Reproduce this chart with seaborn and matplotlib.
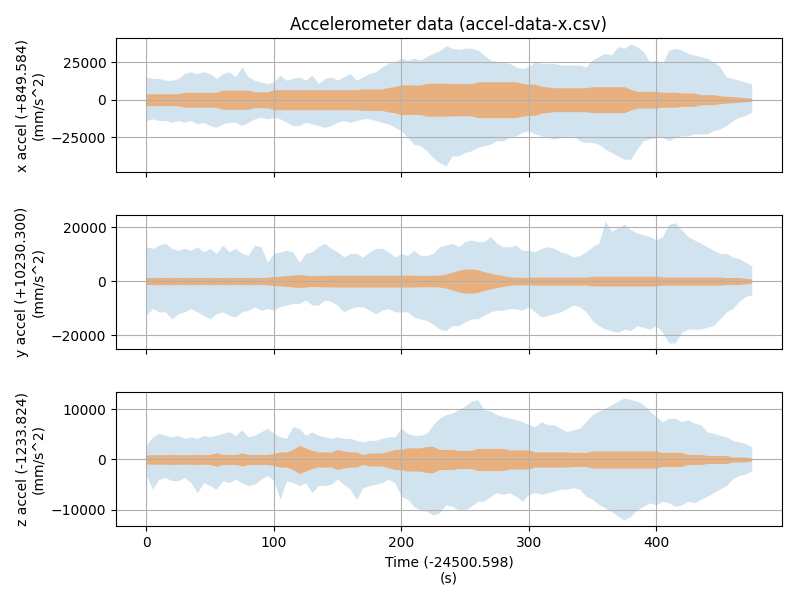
import numpy as np
import pandas as pd
import seaborn as sns
import matplotlib
matplotlib.use("Agg")
import matplotlib.pyplot as plt

# time grid (s), one sample per 5 s window
time_s = np.arange(0, 476, 5)

# x axis envelope (mm/s^2)
x_max = [15300, 14200, 14200, 13000, 13000, 14200, 17500, 18700, 17500, 18700,
         17500, 14200, 17500, 18700, 15300, 22000, 15300, 13000, 11900, 10800,
         11900, 16400, 13000, 14200, 15300, 13000, 16400, 10800, 14200, 15300,
         13000, 15300, 17500, 13000, 15300, 17500, 18700, 22000, 24300, 25400,
         27700, 26500, 27700, 26500, 28800, 31000, 32800, 36000, 34400, 33700,
         34400, 34400, 33300, 29900, 26500, 25400, 25000, 24300, 22000, 20900,
         22000, 25400, 24300, 24300, 24300, 23200, 23200, 23200, 23200, 22000,
         26500, 28800, 31000, 29900, 35500, 34400, 37200, 35500, 32200, 25400,
         26500, 24300, 33300, 34400, 33300, 31000, 29900, 28800, 27700, 25400,
         22000, 15300, 14200, 13000, 11900, 10400]
x_min = [-13950, -12800, -13950, -13950, -15100, -13950, -15100, -13950, -16200, -15100,
         -17300, -18500, -16200, -15100, -15100, -17300, -15100, -12800, -11700, -12800,
         -11700, -12800, -15100, -17300, -17300, -15100, -16200, -17300, -18500, -17300,
         -15100, -13950, -15100, -13950, -12800, -12800, -13950, -15100, -16200, -18500,
         -20700, -25200, -29700, -30800, -34200, -38700, -42100, -44300, -37600, -37600,
         -35300, -34200, -31900, -30800, -29700, -27400, -27400, -25200, -24100, -21800,
         -20700, -22900, -24100, -25200, -26300, -25200, -25200, -24100, -27400, -28600,
         -28600, -29700, -33100, -35300, -37600, -39800, -39800, -33100, -27400, -26300,
         -25200, -25200, -27400, -25200, -24100, -24100, -22900, -22900, -22900, -20700,
         -19600, -17300, -13950, -11700, -10600, -8300]
x_std = [4000, 4000, 4000, 4000, 4000, 4000, 5000, 5000, 5000, 5000,
         5000, 5000, 6400, 6400, 6400, 6400, 6400, 5300, 5300, 5300,
         6700, 6700, 6700, 6700, 6700, 6700, 6700, 6700, 6700, 6700,
         6700, 6700, 6700, 6700, 7200, 7200, 7200, 7200, 8200, 8800,
         9900, 9900, 9900, 9900, 11000, 11000, 11000, 11000, 10800, 10800,
         10800, 10800, 12000, 12000, 12000, 12000, 12000, 12000, 12000, 11000,
         10400, 10400, 9000, 8500, 8000, 8000, 8000, 8000, 8000, 8000,
         8700, 8700, 8700, 8700, 8700, 8700, 7000, 5600, 5600, 5600,
         5600, 5000, 5000, 5000, 4500, 4500, 4500, 3400, 3400, 3400,
         2600, 2300, 2100, 1700, 1400, 1100]

# y axis envelope (mm/s^2)
y_max = [12700, 12100, 13300, 14000, 12100, 11400, 12100, 11400, 12700, 10800,
         12100, 10200, 13300, 10800, 12100, 10200, 9500, 13300, 12700, 7000,
         10200, 10800, 11400, 10800, 7000, 10200, 10800, 12700, 14000, 12100,
         10800, 8900, 10200, 10200, 8900, 10800, 12100, 12100, 10800, 8900,
         10200, 9500, 11400, 9500, 9500, 10200, 12700, 13300, 14000, 12700,
         14600, 15200, 14600, 14600, 16500, 14000, 12700, 12700, 13300, 11400,
         11400, 10800, 12100, 12700, 12100, 10800, 10200, 8900, 9500, 10800,
         12700, 14000, 22200, 18400, 19700, 21000, 19000, 17800, 17100, 16500,
         15200, 16500, 21000, 21600, 19000, 16500, 15200, 14000, 12700, 11400,
         10200, 10200, 8900, 8300, 7000, 5700]
y_min = [-12700, -10200, -11400, -11400, -14000, -12100, -11400, -10200, -11400, -12700,
         -14000, -12100, -11400, -12700, -13300, -11400, -10800, -9500, -10800, -10200,
         -10800, -9500, -8900, -8300, -8300, -7000, -8900, -8900, -7000, -7600,
         -8900, -11400, -10200, -9500, -9500, -10800, -12100, -10800, -10200, -11400,
         -11400, -11400, -13300, -14000, -14600, -15900, -17800, -18400, -16500, -16500,
         -15200, -14000, -14000, -12700, -11400, -10800, -10800, -10200, -10200, -10800,
         -9500, -11400, -13300, -12700, -12100, -11400, -10200, -8900, -9500, -11400,
         -14600, -16500, -17800, -18400, -19000, -17800, -18400, -16500, -17100, -17800,
         -16500, -19000, -22900, -22900, -19000, -17800, -17800, -17800, -17100, -16500,
         -14000, -11400, -10200, -7600, -5700, -5100]
y_std = [1300, 1300, 1400, 1300, 1400, 1300, 1300, 1400, 1300, 1300,
         1400, 1300, 1300, 1400, 1300, 1300, 1400, 1300, 1300, 1400,
         1700, 1800, 2000, 2200, 2400, 2200, 2000, 2100, 2100, 2200,
         2200, 2200, 2200, 2200, 2200, 2200, 2200, 2200, 2200, 2200,
         2200, 2200, 2200, 2100, 2100, 2100, 2200, 2600, 3300, 4000,
         4400, 4500, 4200, 3500, 2900, 2400, 2000, 1600, 1400, 1400,
         1400, 1500, 1500, 1500, 1500, 1500, 1500, 1500, 1500, 1500,
         1800, 1800, 1800, 1800, 1800, 1800, 1800, 1800, 1800, 1800,
         1800, 1500, 1500, 1500, 1500, 1500, 1500, 1500, 1500, 1500,
         1500, 1300, 1300, 1300, 1000, 800]

# z axis envelope (mm/s^2)
z_max = [2800, 4500, 5200, 4800, 4500, 4800, 4200, 4500, 4200, 4800,
         4500, 4800, 5200, 5500, 4800, 5900, 4500, 4800, 5500, 6200,
         5200, 4500, 4200, 6500, 6200, 4800, 5500, 4800, 4500, 4200,
         4500, 4200, 4200, 3800, 3500, 3800, 3800, 4200, 4500, 4500,
         6200, 5200, 4800, 4800, 5200, 6900, 8200, 8900, 9200, 9900,
         10600, 11600, 11900, 9900, 9600, 8900, 8500, 8200, 7900, 7500,
         6900, 6500, 7500, 6900, 6900, 6200, 5500, 5900, 6200, 7500,
         8900, 9600, 10200, 10900, 11600, 12200, 11900, 11600, 10900, 9600,
         8500, 7500, 8200, 8200, 7500, 7900, 7200, 6900, 5500, 5200,
         4800, 4500, 3800, 3500, 3200, 2500]
z_min = [-3200, -5900, -3900, -3600, -4200, -4200, -3600, -4600, -6600, -4600,
         -5200, -5900, -4200, -4600, -3900, -4600, -5200, -4900, -3900, -3200,
         -4200, -7900, -4200, -4600, -5200, -4600, -6600, -5200, -5200, -4900,
         -3900, -4900, -5900, -7900, -5600, -5200, -4900, -4600, -3900, -4600,
         -7300, -7900, -9300, -10000, -10300, -11000, -10600, -9000, -9300, -10000,
         -10000, -9300, -8300, -8300, -7300, -6600, -6900, -6600, -7300, -8300,
         -6900, -6600, -6900, -6600, -6300, -5900, -5900, -5600, -5900, -7300,
         -7900, -8900, -9600, -10300, -11300, -12000, -11300, -10000, -9300, -8600,
         -9000, -8300, -8600, -9300, -9000, -8300, -8600, -7900, -7300, -6600,
         -5900, -5200, -3900, -3200, -2900, -2200]
z_std = [900, 950, 950, 950, 1000, 950, 950, 950, 1000, 950,
         1000, 1300, 1000, 1000, 1000, 1300, 1000, 1000, 1000, 1000,
         1200, 1500, 1500, 2000, 2800, 2300, 1800, 1500, 1500, 1500,
         2000, 1700, 1500, 1500, 1000, 1300, 1300, 1300, 1600, 2000,
         2000, 2300, 2300, 2300, 2600, 2600, 2000, 2000, 2000, 1800,
         1800, 1800, 2200, 2200, 2200, 2200, 2200, 1900, 1900, 1900,
         1900, 1500, 1500, 1500, 1500, 1500, 1500, 1400, 1400, 1400,
         1700, 1700, 1700, 1700, 1700, 1700, 1700, 1700, 1700, 1700,
         1700, 1400, 1400, 1400, 1400, 1000, 1000, 1000, 800, 800,
         800, 800, 500, 500, 500, 300]

y_labels = ["x accel (+849.584)\n(mm/s^2)",
            "y accel (+10230.300)\n(mm/s^2)",
            "z accel (-1233.824)\n(mm/s^2)"]

df = pd.DataFrame({
    "t": time_s,
    "x_max": x_max, "x_min": x_min, "x_std": x_std,
    "y_max": y_max, "y_min": y_min, "y_std": y_std,
    "z_max": z_max, "z_min": z_min, "z_std": z_std,
})

colors = sns.color_palette("tab10")

fig, axes = plt.subplots(3, 1, figsize=(8, 6), dpi=100, sharex=True)

for ax, axis, label in zip(axes, ["x", "y", "z"], y_labels):
    ax.fill_between(df["t"], df[axis + "_min"], df[axis + "_max"],
                    color=colors[0], alpha=0.2, linewidth=0)
    ax.fill_between(df["t"], -df[axis + "_std"], df[axis + "_std"],
                    color=colors[1], alpha=0.5, linewidth=0)
    ax.set_ylabel(label)
    ax.grid(True)

axes[0].set_title("Accelerometer data (accel-data-x.csv)")
axes[-1].set_xlabel("Time (-24500.598)\n(s)")

plt.subplots_adjust(left=0.145, right=0.9775, top=0.9367, bottom=0.1233,
                    hspace=0.32)
plt.savefig("out.png", dpi=100)
